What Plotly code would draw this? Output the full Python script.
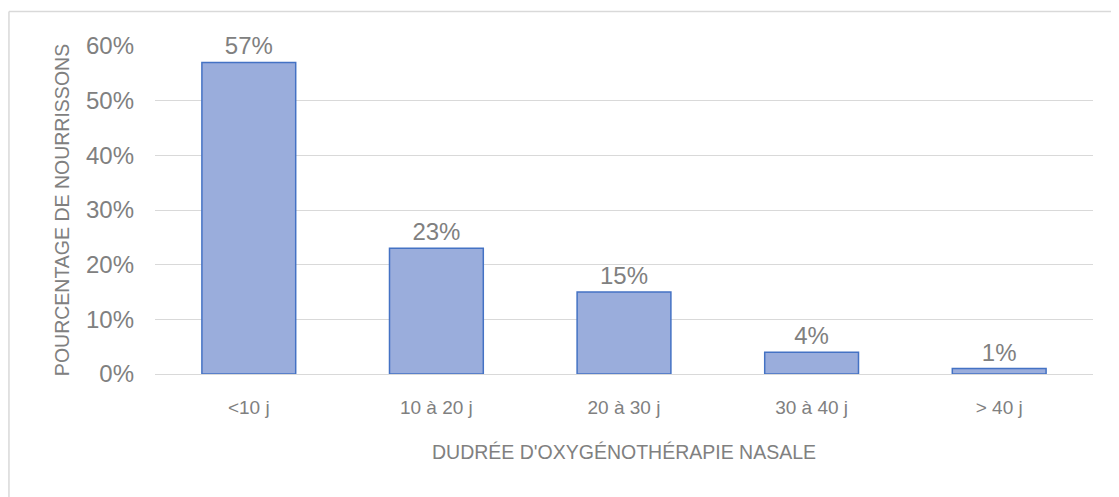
import plotly.graph_objects as go

# data
categories = ['<10 j', '10 à 20 j', '20 à 30 j', '30 à 40 j', '> 40 j']
percentages = [0.57, 0.23, 0.15, 0.04, 0.01]
y_ticks = [0, 0.1, 0.2, 0.3, 0.4, 0.5, 0.6]
y_tick_labels = ['0%', '10%', '20%', '30%', '40%', '50%', '60%']

GREY = '#808080'
GRID = '#D9D9D9'

fig = go.Figure()

fig.add_trace(go.Bar(
    x=categories,
    y=percentages,
    text=[f"{v:.0%}" for v in percentages],
    textposition='outside',
    textfont=dict(family='Liberation Sans, Arial, sans-serif', size=24, color=GREY),
    cliponaxis=False,
    marker=dict(color='#9AADDC', line=dict(color='#4472C4', width=1.5)),
    width=0.5,
))

# the page body adds an 8px offset, so the figure is 8px smaller
fig.update_layout(
    width=1111,
    height=489,
    margin=dict(l=147, r=26, t=38, b=123),
    paper_bgcolor='white',
    plot_bgcolor='white',
    showlegend=False,
    font=dict(family='Liberation Sans, Arial, sans-serif', color=GREY),
    xaxis=dict(
        showgrid=False,
        showline=True,
        linecolor=GRID,
        linewidth=1,
        tickfont=dict(size=19, color=GREY),
        ticklabelstandoff=16,
        title=dict(text="DUDRÉE D'OXYGÉNOTHÉRAPIE NASALE",
                   font=dict(size=19.5, color=GREY), standoff=28),
        automargin=False,
    ),
    yaxis=dict(
        range=[0, 0.6],
        tickvals=y_ticks,
        ticktext=y_tick_labels,
        showgrid=True,
        gridcolor=GRID,
        gridwidth=1,
        zeroline=False,
        tickfont=dict(size=24, color=GREY),
        ticklabelstandoff=20,
        title=dict(text='POURCENTAGE DE NOURRISSONS',
                   font=dict(size=19.5, color=GREY), standoff=11),
        automargin=False,
    ),
)

# chart-area frame (only the top and left edges are inside the picture)
fig.add_shape(type='line', xref='paper', yref='paper',
              x0=-0.1557, x1=1.05, y0=1.1052, y1=1.1052,
              line=dict(color=GRID, width=1.5))
fig.add_shape(type='line', xref='paper', yref='paper',
              x0=-0.1557, x1=-0.1557, y0=1.1052, y1=-0.4,
              line=dict(color=GRID, width=1.5))

fig.write_html("out.html")
